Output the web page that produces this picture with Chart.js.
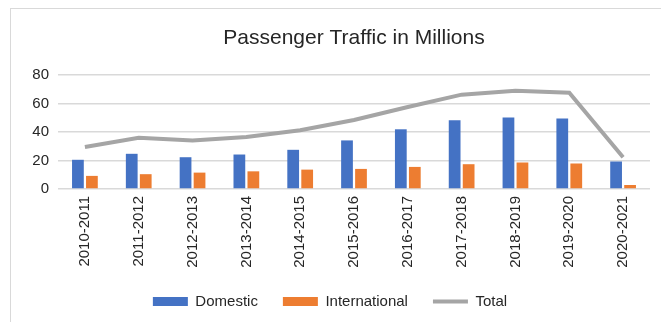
<!DOCTYPE html>
<html>
<head>
<meta charset="utf-8">
<script src="https://cdn.jsdelivr.net/npm/chart.js@4"></script>
<style>
  html, body { margin: 0; padding: 0; background: #fff; }
  #wrap { position: relative; width: 661px; height: 322px; overflow: hidden; }
  #frame { position: absolute; left: 10px; top: 8px; width: 700px; height: 400px; border: 1px solid #d9d9d9; }
  canvas { position: absolute; left: 0; top: 0; }
</style>
</head>
<body>
<div id="wrap">
  <div id="frame"></div>
  <canvas id="c" width="661" height="322"></canvas>
</div>
<script>
const categories = ["2010-2011","2011-2012","2012-2013","2013-2014","2014-2015","2015-2016","2016-2017","2017-2018","2018-2019","2019-2020","2020-2021"];
const domestic = [20.5, 24.7, 22.3, 24.2, 27.5, 34.1, 41.9, 48.3, 50.1, 49.4, 19.3];
const international = [9.2, 10.4, 11.5, 12.4, 13.6, 14.1, 15.5, 17.4, 18.6, 17.9, 2.8];
const total = [29.5, 36.0, 34.1, 36.5, 41.2, 48.4, 57.5, 66.2, 68.9, 67.5, 22.3];
const yTicks = [0, 20, 40, 60, 80];
const titleText = 'Passenger Traffic in Millions';

const FONT = "'Liberation Sans', Arial, sans-serif";
const TXT = "#262626";

const plotTitle = {
  id: 'plotTitle',
  afterDraw(chart) {
    const { ctx, chartArea } = chart;
    ctx.save();
    ctx.font = "21px " + FONT;
    ctx.fillStyle = TXT;
    ctx.textAlign = 'center';
    ctx.textBaseline = 'middle';
    ctx.fillText(titleText, (chartArea.left + chartArea.right) / 2, 38);
    ctx.restore();
  }
};

new Chart(document.getElementById('c'), {
  data: {
    labels: categories,
    datasets: [
      { type: 'bar', label: 'Domestic', data: domestic, backgroundColor: '#4472C4', order: 2,
        categoryPercentage: 0.52, barPercentage: 0.84 },
      { type: 'bar', label: 'International', data: international, backgroundColor: '#ED7D31', order: 3,
        categoryPercentage: 0.52, barPercentage: 0.84 },
      { type: 'line', label: 'Total', data: total, borderColor: '#A5A5A5', backgroundColor: '#A5A5A5',
        borderWidth: 4, pointRadius: 0, tension: 0, order: 1 }
    ]
  },
  plugins: [plotTitle],
  options: {
    responsive: false,
    animation: false,
    layout: { padding: { left: 10, right: 11, top: 75, bottom: 3 } },
    plugins: {
      tooltip: { enabled: false },
      title: { display: false },
      legend: {
        position: 'bottom',
        labels: {
          font: { family: FONT, size: 15 }, color: TXT,
          usePointStyle: true, pointStyleWidth: 35, boxHeight: 9, padding: 25,
          sort: (a, b) => a.datasetIndex - b.datasetIndex,
          generateLabels: (chart) => {
            const items = Chart.defaults.plugins.legend.labels.generateLabels(chart);
            items.forEach(it => {
              if (it.datasetIndex === 2) {
                it.pointStyle = 'line'; it.lineWidth = 4; it.strokeStyle = '#A5A5A5'; it.fillStyle = '#A5A5A5';
              } else {
                it.pointStyle = 'rect'; it.lineWidth = 0; it.strokeStyle = it.fillStyle;
              }
            });
            return items;
          }
        }
      }
    },
    scales: {
      x: {
        afterFit: (s) => { s.height = 80; },
        grid: { display: false, drawTicks: false },
        border: { display: false },
        ticks: { font: { family: FONT, size: 15 }, color: TXT, maxRotation: 90, minRotation: 90, padding: 7, autoSkip: false }
      },
      y: {
        min: 0, max: 80,
        afterFit: (s) => { s.width = 48; },
        afterBuildTicks: (s) => { s.ticks = yTicks.map(v => ({ value: v })); },
        grid: { color: '#d9d9d9', lineWidth: 1.5, drawTicks: false },
        border: { display: false },
        ticks: { font: { family: FONT, size: 15 }, color: TXT, padding: 9 }
      }
    }
  }
});
</script>
</body>
</html>
